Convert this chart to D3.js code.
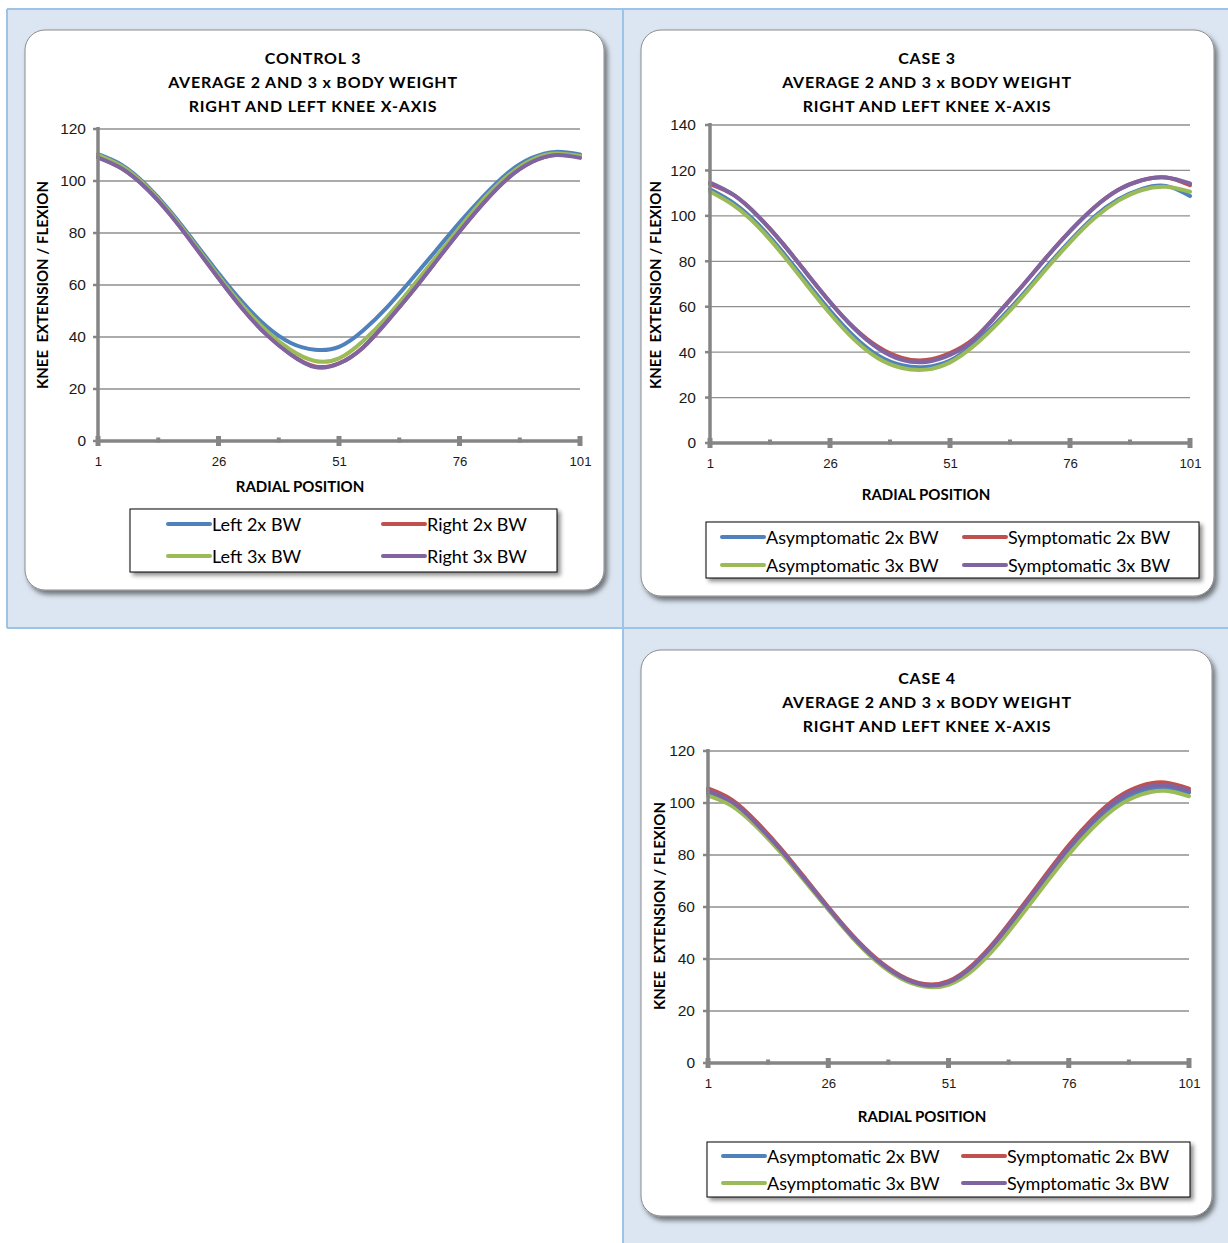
<!DOCTYPE html>
<html>
<head>
<meta charset="utf-8">
<script src="https://cdn.jsdelivr.net/npm/d3@7"></script>
<style>
    html, body { margin: 0; padding: 0; background: #fff; }
    svg { display: block; }
    .title { font-family: Lato, "Open Sans", sans-serif; font-weight: 700; font-size: 16px; letter-spacing: 0.8px; fill: #000; }
    .axis-title { font-family: Lato, "Open Sans", sans-serif; font-weight: 700; font-size: 15px; fill: #000; }
    .tick-label { font-family: "Liberation Sans", Arial, sans-serif; font-size: 15.5px; fill: #1a1a1a; }
    .xtick-label { font-family: "Liberation Sans", Arial, sans-serif; font-size: 13.2px; fill: #1a1a1a; }
    .legend-text { font-family: Lato, "Open Sans", sans-serif; font-size: 18px; fill: #000; }
</style>
</head>
<body>
<svg id="sheet" width="1228" height="1243"></svg>
<script>
// radial positions sampled along the x axis
const positions = [1, 6, 11, 16, 21, 26, 31, 36, 41, 46, 51, 56, 61, 66, 71, 76, 81, 86, 91, 96, 101];
const xTickLabels = [1, 26, 51, 76, 101];
const xMinorTicks = [13.5, 38.5, 63.5, 88.5];

// CONTROL 3
const control3Left2x  = [110.3, 106.1, 98.5, 88.4, 76.6, 64.5, 53.3, 44.0, 37.7, 35.1, 36.2, 42.5, 51.5, 62.0, 73.0, 84.0, 94.2, 103.1, 108.9, 111.2, 110.2];
const control3Right2x = [109.2, 104.8, 97.3, 87.1, 75.1, 62.7, 50.9, 40.9, 33.3, 28.7, 29.9, 36.0, 46.0, 57.0, 68.8, 80.6, 91.6, 101.0, 107.3, 110.1, 109.2];
const control3Left3x  = [110.0, 105.6, 98.0, 87.8, 75.8, 63.5, 52.0, 42.3, 35.0, 30.8, 31.8, 38.5, 47.8, 58.8, 70.5, 82.0, 93.0, 102.0, 108.2, 110.6, 109.6];
const control3Right3x = [109.0, 104.7, 97.2, 87.0, 75.0, 62.6, 50.8, 40.8, 33.2, 28.4, 29.8, 36.0, 46.0, 57.0, 68.8, 80.6, 91.6, 101.0, 107.3, 110.0, 108.9];

// CASE 3
const case3Asym2x = [111.7, 105.5, 96.3, 84.4, 71.2, 58.3, 46.9, 38.5, 34.2, 33.5, 36.3, 43.6, 53.6, 65.0, 77.3, 89.0, 99.5, 107.2, 111.9, 113.2, 108.7];
const case3Sym2x  = [114.0, 109.1, 99.9, 88.2, 75.1, 62.1, 50.8, 42.4, 37.5, 36.5, 39.6, 46.0, 57.0, 69.0, 81.5, 93.3, 103.6, 111.4, 115.7, 116.9, 113.5];
const case3Asym3x = [110.7, 104.5, 95.3, 83.3, 70.0, 57.0, 45.6, 37.3, 33.0, 32.3, 35.5, 42.8, 52.8, 64.2, 76.5, 88.3, 98.8, 106.6, 111.4, 112.8, 110.6];
const case3Sym3x  = [114.6, 109.1, 99.9, 88.2, 75.1, 62.1, 50.5, 41.7, 36.6, 35.7, 38.8, 45.5, 57.0, 69.0, 81.5, 93.3, 103.6, 111.4, 115.7, 116.9, 114.3];

// CASE 4
const case4Asym2x = [103.8, 99.6, 91.6, 81.7, 70.6, 59.3, 48.5, 39.5, 33.0, 29.8, 30.7, 36.6, 46.2, 57.8, 69.9, 81.6, 91.8, 99.9, 104.6, 106.0, 104.0];
const case4Sym2x  = [105.6, 101.2, 92.9, 82.8, 71.5, 60.0, 49.2, 40.2, 33.7, 30.4, 31.5, 37.7, 47.6, 59.5, 71.8, 83.7, 94.0, 102.0, 106.6, 107.9, 105.5];
const case4Asym3x = [102.8, 98.8, 91.0, 81.2, 70.2, 59.0, 48.2, 39.1, 32.6, 29.4, 30.1, 35.6, 44.9, 56.4, 68.5, 80.2, 90.4, 98.5, 103.2, 104.7, 102.6];
const case4Sym3x  = [104.7, 100.4, 92.2, 82.2, 71.0, 59.6, 48.8, 39.8, 33.3, 30.0, 31.0, 37.2, 47.0, 58.8, 71.0, 82.8, 93.0, 101.0, 105.6, 106.9, 104.7];

const seriesColors = ["#4F81BD", "#C0504D", "#9BBB59", "#8064A2"];
const controlNames = ["Left 2x BW", "Right 2x BW", "Left 3x BW", "Right 3x BW"];
const caseNames = ["Asymptomatic 2x BW", "Symptomatic 2x BW", "Asymptomatic 3x BW", "Symptomatic 3x BW"];

const svg = d3.select("#sheet");
const defs = svg.append("defs");
defs.append("filter").attr("id", "panelShadow").attr("x", "-5%").attr("y", "-5%").attr("width", "115%").attr("height", "115%")
    .append("feDropShadow").attr("dx", 3).attr("dy", 4).attr("stdDeviation", 2.5)
    .attr("flood-color", "#000").attr("flood-opacity", 0.5);
defs.append("filter").attr("id", "legendShadow").attr("x", "-5%").attr("y", "-20%").attr("width", "115%").attr("height", "150%")
    .append("feDropShadow").attr("dx", 3).attr("dy", 3).attr("stdDeviation", 2)
    .attr("flood-color", "#000").attr("flood-opacity", 0.45);
defs.append("filter").attr("id", "softBlur").attr("x", "-5%").attr("y", "-200%").attr("width", "110%").attr("height", "500%")
    .append("feGaussianBlur").attr("stdDeviation", 1.8);

// _________________________
// worksheet background
// _________________________
const cellFill = "#dce6f2";
const cellLine = "#9dc3e6";
svg.append("rect").attr("x", 7).attr("y", 9).attr("width", 1221).attr("height", 619).attr("fill", cellFill);
svg.append("rect").attr("x", 623).attr("y", 628).attr("width", 605).attr("height", 615).attr("fill", cellFill);
[[7, 9, 1228, 9], [7, 9, 7, 628], [623, 9, 623, 1243], [7, 628, 1228, 628]].forEach(([x1, y1, x2, y2]) => {
    svg.append("line").attr("x1", x1).attr("y1", y1).attr("x2", x2).attr("y2", y2)
        .attr("stroke", cellLine).attr("stroke-width", 2);
});

function drawChart(cfg) {
    const g = svg.append("g");
    const p = cfg.panel;
    g.append("rect")
        .attr("x", p.x).attr("y", p.y).attr("width", p.w).attr("height", p.h)
        .attr("rx", 20).attr("ry", 20)
        .attr("fill", "#fff").attr("stroke", "#8c8c8c").attr("stroke-width", 1)
        .attr("filter", "url(#panelShadow)");

    cfg.title.forEach((t, i) => {
        g.append("text").attr("class", "title")
            .attr("x", cfg.titleX).attr("y", cfg.titleY + i * 24)
            .attr("text-anchor", "middle").attr("dominant-baseline", "central")
            .text(t);
    });

    const x = d3.scaleLinear().domain([1, 101]).range(cfg.xRange);
    const y = d3.scaleLinear().domain([0, cfg.yMax]).range(cfg.yRange);
    const yTicks = d3.range(0, cfg.yMax + 1, 20);
    const x0 = x(1), x1 = x(101), y0 = y(0), yTop = y(cfg.yMax);

    // gridline shadows
    g.append("g").selectAll("line").data(yTicks.filter(v => v > 0)).join("line")
        .attr("x1", x0).attr("x2", x1 + 2)
        .attr("y1", d => y(d) + 3).attr("y2", d => y(d) + 3)
        .attr("stroke", "#000").attr("stroke-opacity", 0.12).attr("stroke-width", 3)
        .attr("filter", "url(#softBlur)");
    // right edge shadow of plot area
    g.append("line").attr("x1", x1 + 3).attr("x2", x1 + 3).attr("y1", yTop + 2).attr("y2", y0)
        .attr("stroke", "#000").attr("stroke-opacity", 0.15).attr("stroke-width", 3)
        .attr("filter", "url(#softBlur)");
    // gridlines
    g.append("g").selectAll("line").data(yTicks.filter(v => v > 0)).join("line")
        .attr("x1", x0).attr("x2", x1)
        .attr("y1", d => y(d)).attr("y2", d => y(d))
        .attr("stroke", "#8f8f8f").attr("stroke-width", 1.3);

    // y axis labels
    const yAxis = d3.axisLeft(y).tickValues(yTicks).tickSize(0).tickPadding(0);
    const yg = g.append("g").attr("transform", `translate(${cfg.yLabelX},0)`).call(yAxis);
    yg.select(".domain").remove();
    yg.selectAll("text").attr("class", "tick-label").attr("font-size", null).attr("font-family", null);

    // x axis labels
    const xAxis = d3.axisBottom(x).tickValues(xTickLabels).tickSize(0).tickPadding(0);
    const xg = g.append("g").attr("transform", `translate(0,${cfg.xLabelY - 5})`).call(xAxis);
    xg.select(".domain").remove();
    xg.selectAll("text").attr("class", "xtick-label").attr("font-size", null).attr("font-family", null);

    // axis titles
    g.append("text").attr("class", "axis-title")
        .attr("x", cfg.xTitle[0]).attr("y", cfg.xTitle[1])
        .attr("text-anchor", "middle").attr("dominant-baseline", "central")
        .text("RADIAL POSITION");
    g.append("text").attr("class", "axis-title")
        .attr("transform", `translate(${cfg.yTitle[0]},${cfg.yTitle[1]}) rotate(-90)`)
        .attr("text-anchor", "middle").attr("dominant-baseline", "central")
        .attr("xml:space", "preserve")
        .text("KNEE  EXTENSION / FLEXION");

    // data lines
    const line = d3.line()
        .x((d, i) => x(positions[i]))
        .y(d => y(d))
        .curve(d3.curveNatural);
    cfg.series.forEach((s, i) => {
        g.append("path")
            .attr("d", line(s))
            .attr("fill", "none")
            .attr("stroke", seriesColors[i])
            .attr("stroke-width", 4)
            .attr("stroke-linecap", "round");
    });

    // axes
    const axisColor = "#858585";
    g.append("line").attr("x1", x0).attr("x2", x0).attr("y1", yTop - 2).attr("y2", y0 + 2)
        .attr("stroke", axisColor).attr("stroke-width", 3.5);
    g.append("line").attr("x1", x0 - 2).attr("x2", x1 + 2).attr("y1", y0).attr("y2", y0)
        .attr("stroke", axisColor).attr("stroke-width", 3.5);
    g.append("g").selectAll("line").data(yTicks).join("line")
        .attr("x1", x0 - 5).attr("x2", x0).attr("y1", d => y(d)).attr("y2", d => y(d))
        .attr("stroke", axisColor).attr("stroke-width", 2.5);
    g.append("g").selectAll("rect").data(xTickLabels).join("rect")
        .attr("x", d => x(d) - 2.5).attr("y", y0 - 5).attr("width", 5).attr("height", 10)
        .attr("fill", axisColor);
    g.append("g").selectAll("rect").data(xMinorTicks).join("rect")
        .attr("x", d => x(d) - 2).attr("y", y0 - 3.5).attr("width", 4).attr("height", 5)
        .attr("fill", axisColor);

    // legend
    const L = cfg.legend;
    g.append("rect").attr("x", L.x).attr("y", L.y).attr("width", L.w).attr("height", L.h)
        .attr("fill", "#fff").attr("stroke", "#000").attr("stroke-width", 1)
        .attr("filter", "url(#legendShadow)");
    cfg.names.forEach((name, i) => {
        const col = i % 2, row = Math.floor(i / 2);
        const lx = L.cols[col], ly = L.rows[row];
        g.append("line").attr("x1", lx).attr("x2", lx + 42).attr("y1", ly).attr("y2", ly)
            .attr("stroke", seriesColors[i]).attr("stroke-width", 4).attr("stroke-linecap", "round");
        g.append("text").attr("class", "legend-text")
            .attr("x", lx + 44).attr("y", ly).attr("dominant-baseline", "central")
            .text(name);
    });
}

drawChart({
    panel: {x: 25, y: 30, w: 579, h: 560},
    title: ["CONTROL 3", "AVERAGE 2 AND 3 x BODY WEIGHT", "RIGHT AND LEFT KNEE X-AXIS"],
    titleX: 313, titleY: 57,
    xRange: [98, 580], yRange: [441, 129], yMax: 120,
    yLabelX: 86, xLabelY: 462,
    xTitle: [300, 486], yTitle: [42, 285],
    series: [control3Left2x, control3Right2x, control3Left3x, control3Right3x],
    names: controlNames,
    legend: {x: 130, y: 509, w: 427, h: 63, rows: [524, 556], cols: [168, 383]}
});

drawChart({
    panel: {x: 641, y: 30, w: 573, h: 566},
    title: ["CASE 3", "AVERAGE 2 AND 3 x BODY WEIGHT", "RIGHT AND LEFT KNEE X-AXIS"],
    titleX: 927, titleY: 57,
    xRange: [710, 1190], yRange: [443, 125], yMax: 140,
    yLabelX: 696, xLabelY: 464,
    xTitle: [926, 494], yTitle: [655, 285],
    series: [case3Asym2x, case3Sym2x, case3Asym3x, case3Sym3x],
    names: caseNames,
    legend: {x: 706, y: 522, w: 493, h: 56, rows: [537, 565], cols: [722, 964]}
});

drawChart({
    panel: {x: 641, y: 650, w: 571, h: 566},
    title: ["CASE 4", "AVERAGE 2 AND 3 x BODY WEIGHT", "RIGHT AND LEFT KNEE X-AXIS"],
    titleX: 927, titleY: 677,
    xRange: [708, 1189], yRange: [1063, 751], yMax: 120,
    yLabelX: 695, xLabelY: 1084,
    xTitle: [922, 1116], yTitle: [659, 906],
    series: [case4Asym2x, case4Sym2x, case4Asym3x, case4Sym3x],
    names: caseNames,
    legend: {x: 707, y: 1142, w: 483, h: 55, rows: [1156, 1183], cols: [723, 963]}
});
</script>
</body>
</html>
